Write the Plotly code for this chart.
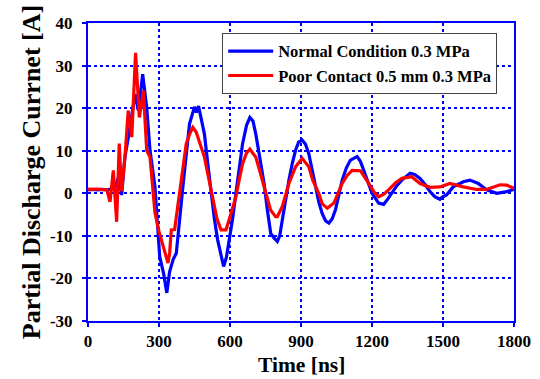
import plotly.graph_objects as go

# Normal Condition 0.3 MPa (blue)
t_normal = [0, 20, 40, 60, 80, 100, 115, 130, 142, 156, 170, 185, 199, 213, 231, 248, 262, 283,
            303, 320, 333, 345, 360, 373, 387, 401, 415, 429, 450, 458, 467, 480, 492, 506, 520,
            534, 548, 573, 585, 597, 611, 625, 639, 653, 670, 684, 697, 709, 727, 744, 758, 772,
            786, 800, 810, 821, 835, 849, 863, 877, 890, 905, 919, 933, 947, 961, 975, 989, 1004,
            1018, 1032, 1046, 1060, 1074, 1092, 1109, 1137, 1151, 1165, 1183, 1200, 1228, 1249,
            1265, 1284, 1305, 1326, 1361, 1380, 1403, 1425, 1445, 1465, 1487, 1500, 1515, 1543,
            1586, 1614, 1649, 1684, 1727, 1769, 1800]
i_normal = [0.8, 0.9, 0.8, 0.9, 0.8, 1.0, 1.5, 4.0, -0.4, 8.5, 13, 17.8, 23.3, 19.4, 28, 20.2, 10.1, 1.5,
            -14.9, -19, -23.4, -18.4, -15.5, -14.1, -7, 1.6, 9, 16.3, 20.3, 19, 20.5, 17, 13.9, 7, 0,
            -6, -11, -17.2, -15, -11, -6, 0, 6, 11.6, 16, 17.8, 17, 13.9, 8, 2.3, -4, -9.4,
            -10.5, -11.3, -10, -6.2, -1.5, 3.1, 7, 10.1, 12, 12.5, 11.5, 9.3, 5.5, 1.5, -2, -4.7, -6.5,
            -7, -6, -3.8, -0.5, 3.1, 6, 7.8, 8.6, 7.5, 5.4, 2.5, 0, -2.3, -2.6,
            -1.5, 0, 1.8, 3.1, 4.7, 4.4, 3.5, 2, 0.4, -0.8, -1.4, -0.8, -0.4, 1.5,
            2.7, 3.1, 2.3, 0.8, 0, 0.4, 0.9]

# Poor Contact 0.5 mm 0.3 MPa (red)
t_poor = [0, 20, 40, 60, 80, 93, 107, 121, 132, 142, 156, 170, 185, 201, 217, 234, 248, 262, 283,
          300, 310, 325, 338, 345, 352, 366, 380, 394, 415, 430, 443, 457, 475, 492, 510, 527,
          545, 562, 583, 603, 625, 640, 653, 670, 684, 695, 709, 727, 744, 758, 772, 793, 800,
          821, 835, 849, 877, 905, 933, 950, 975, 990, 1011, 1039, 1074, 1095, 1116, 1151, 1186,
          1210, 1228, 1250, 1270, 1300, 1326, 1368, 1403, 1445, 1487, 1529, 1586, 1642, 1684,
          1741, 1769, 1800]
i_poor = [1.0, 0.9, 1.0, 0.9, 0.8, -2, 5.4, -6.7, 11.7, 0.5, 8.5, 19.4, 13.2, 33, 17.8, 24.1, 10.1, 8.5, -4.6,
          -9, -11, -14, -16.4, -14, -8.6, -8.5, -3, 2.3, 11.6, 14, 15.5, 14.4, 11.5, 8.5, 3.5, -1.6,
          -6, -8.6, -8.6, -5, -0.8, 3.5, 6.9, 9.5, 10.4, 9.5, 8.5, 5, 1.5, -1.5, -4, -5.5, -5.5,
          -3.1, -0.5, 2.3, 6.2, 8.2, 6.2, 3, 0, -2.5, -3.5, -2.3, 2.3, 4.2, 5.4, 5.3, 2.3,
          0.2, -0.8, -0.2, 0.8, 2.5, 3.5, 3.9, 2.3, 1.4, 1.5, 2.3, 1.5, 0.9, 0.9,
          2.0, 1.9, 1.2]

x_ticks = [0, 300, 600, 900, 1200, 1500, 1800]
y_ticks = [-30, -20, -10, 0, 10, 20, 30, 40]
x_title = "Time [ns]"
y_title = "Partial Discharge Currnet [A]"

font_family = "Liberation Serif, Times New Roman, serif"

fig = go.Figure()
fig.add_trace(go.Scatter(x=t_normal, y=i_normal, mode="lines", name="Normal Condition 0.3 MPa",
                         line=dict(color="#0000ff", width=3.2)))
fig.add_trace(go.Scatter(x=t_poor, y=i_poor, mode="lines", name="Poor Contact 0.5 mm 0.3 MPa",
                         line=dict(color="#ff0000", width=3.2)))

axis_common = dict(
    showline=True, linecolor="#0000ff", linewidth=2, mirror=True,
    ticks="outside", ticklen=4, tickcolor="#0000ff", tickwidth=2,
    showgrid=True, gridcolor="#0000ff", griddash="dot", gridwidth=2,
    zeroline=False, automargin=False,
    tickfont=dict(family=font_family, size=17, color="black", weight="bold"),
)

fig.update_layout(
    width=540, height=379,
    margin=dict(l=88, r=26, t=23, b=58),
    paper_bgcolor="white", plot_bgcolor="white",
    font=dict(family=font_family, color="black"),
    xaxis=dict(range=[0, 1800], tickvals=x_ticks, ticktext=[str(v) for v in x_ticks],
               ticklabelstandoff=0, **axis_common),
    yaxis=dict(range=[-30, 40], tickvals=y_ticks, ticktext=[str(v) for v in y_ticks],
               ticklabelstandoff=6,
               title=dict(text=y_title,
                          font=dict(family=font_family, size=26, weight="bold"), standoff=2),
               **axis_common),
    legend=dict(x=0.315, y=0.967, xanchor="left", yanchor="top",
                bgcolor="white", bordercolor="#444444", borderwidth=1,
                font=dict(family=font_family, size=16.5, color="black", weight="bold"),
                itemwidth=45, tracegroupgap=0),
    showlegend=True,
    annotations=[dict(text=x_title, xref="paper", yref="paper", x=0.5, y=0,
                      xanchor="center", yanchor="top", yshift=-31, showarrow=False,
                      borderpad=0,
                      font=dict(family=font_family, size=21.5, color="black", weight="bold"))],
)

fig.write_html("out.html")
